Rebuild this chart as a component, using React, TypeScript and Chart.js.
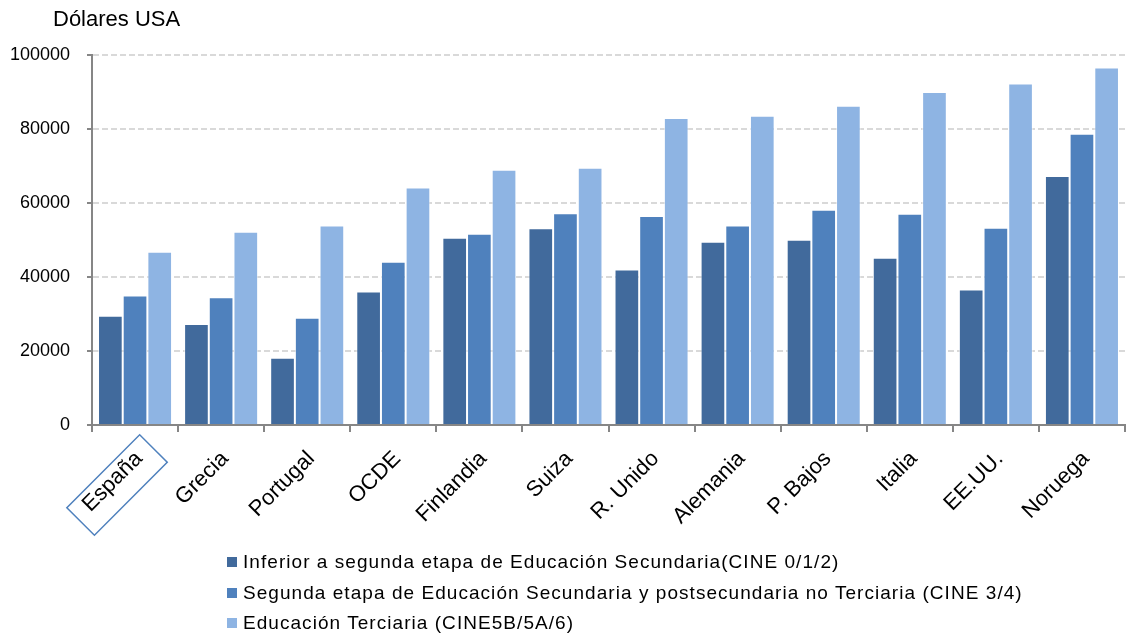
import React, { useEffect, useRef } from "react";
import { Chart, registerables } from "chart.js";

Chart.register(...registerables);

const categories = ["España", "Grecia", "Portugal", "OCDE", "Finlandia", "Suiza", "R. Unido", "Alemania", "P. Bajos", "Italia", "EE.UU.", "Noruega"];
const inferiorValues = [29500, 27300, 18200, 36100, 50600, 53200, 42000, 49500, 50100, 45200, 36600, 67300];
const segundaValues = [35000, 34500, 29000, 44100, 51700, 57200, 56500, 53900, 58200, 57100, 53300, 78700];
const terciariaValues = [46800, 52200, 53900, 64200, 69000, 69500, 83000, 83600, 86300, 90000, 92300, 96600];
const seriesLabels = [
  "Inferior a segunda etapa de Educación Secundaria(CINE 0/1/2)",
  "Segunda etapa de Educación Secundaria y postsecundaria no Terciaria (CINE 3/4)",
  "Educación Terciaria (CINE5B/5A/6)",
];
const seriesColors = ["#416A9C", "#4F81BD", "#8EB4E3"];
const yTitle = "Dólares USA";
const highlighted = "España";

const FONT = "'Liberation Sans', Arial, sans-serif";

const extrasPlugin = {
  id: "extras",
  afterDraw(chart: any) {
    const ctx = chart.ctx;
    const area = chart.chartArea;
    ctx.save();
    ctx.fillStyle = "#000";
    ctx.font = `22px ${FONT}`;
    ctx.textBaseline = "middle";
    ctx.textAlign = "left";
    ctx.fillText(yTitle, 53, 20);
    const idx = categories.indexOf(highlighted);
    if (idx >= 0) {
      const cx = chart.scales.x.getPixelForValue(idx) - 18;
      const cy = area.bottom + 60;
      ctx.translate(cx, cy);
      ctx.rotate(-Math.PI / 4);
      ctx.strokeStyle = "#4F81BD";
      ctx.lineWidth = 1.5;
      ctx.strokeRect(-51.5, -19.5, 103, 39);
    }
    ctx.restore();
  },
};

export default function App() {
  const ref = useRef<HTMLCanvasElement>(null);
  useEffect(() => {
    const values = [inferiorValues, segundaValues, terciariaValues];
    const chart = new Chart(ref.current!, {
      type: "bar",
      data: {
        labels: categories,
        datasets: values.map((v, i) => ({
          label: seriesLabels[i],
          data: v,
          backgroundColor: seriesColors[i],
          borderColor: "rgba(255,255,255,0.55)",
          borderWidth: 1,
          categoryPercentage: 0.86,
          barPercentage: 1,
        })),
      },
      options: {
        animation: false,
        responsive: false,
        maintainAspectRatio: false,
        layout: { padding: { top: 55, right: 1, left: 0, bottom: 0 } },
        plugins: { legend: { display: false }, tooltip: { enabled: false } },
        scales: {
          x: {
            afterFit(scale: any) { scale.height = 214; },
            border: { display: true, color: "#868686", width: 2 },
            grid: { offset: true, drawOnChartArea: false, drawTicks: true, tickLength: 7, tickColor: "#868686", lineWidth: 2 },
            ticks: { color: "#000", font: { family: FONT, size: 22 }, minRotation: 45, maxRotation: 45, padding: 14, labelOffset: 4 },
          },
          y: {
            min: 0,
            max: 100000,
            afterFit(scale: any) { scale.width = 92; },
            border: { display: true, color: "#868686", width: 2, dash: [6, 3] },
            grid: { color: "#D9D9D9", lineWidth: 2, tickColor: "#868686", tickLength: 5, tickBorderDash: [] },
            ticks: { stepSize: 20000, color: "#000", font: { family: FONT, size: 18 }, padding: 17, callback: (v: any) => String(v) },
          },
        },
      },
      plugins: [extrasPlugin],
    });
    return () => chart.destroy();
  }, []);
  return (
    <div style={{ position: "fixed", left: 0, top: 0, width: 1126, height: 639, background: "#fff" }}>
      <canvas ref={ref} width={1126} height={639} style={{ width: 1126, height: 639, display: "block" }} />
      <div style={{ position: "absolute", left: 227, top: 547, fontFamily: FONT, fontSize: 19, color: "#000", letterSpacing: "1.05px" }}>
        {seriesLabels.map((l, i) => (
          <div key={l} style={{ display: "flex", alignItems: "center", height: 30.5 }}>
            <span style={{ width: 10, height: 10, background: seriesColors[i], marginRight: 6, display: "inline-block", flex: "none" }} />
            <span style={{ whiteSpace: "nowrap" }}>{l}</span>
          </div>
        ))}
      </div>
    </div>
  );
}
